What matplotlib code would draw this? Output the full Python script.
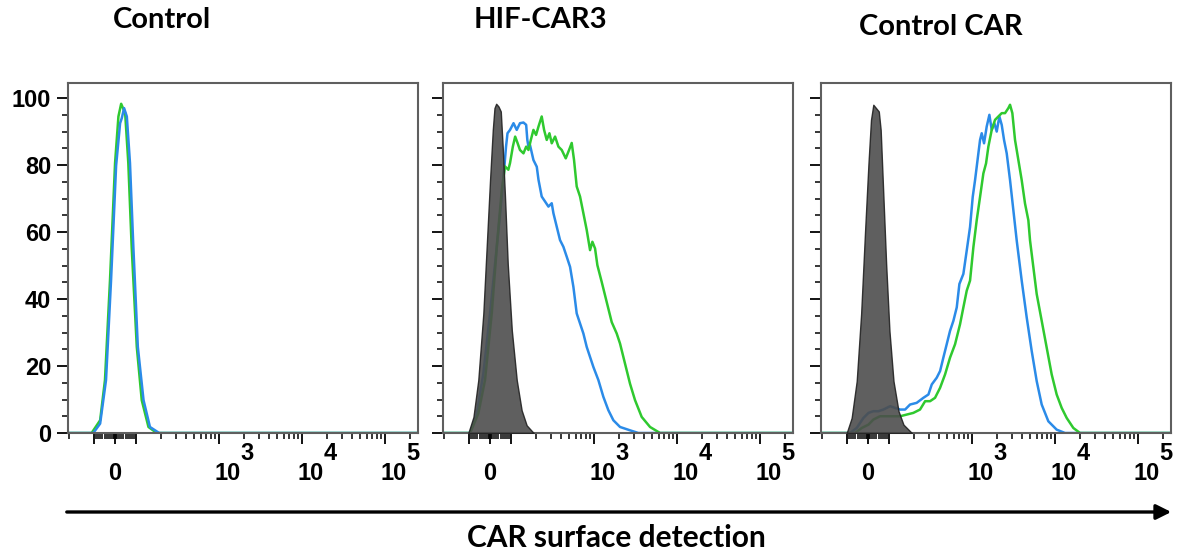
import numpy as np
import matplotlib
matplotlib.use('Agg')
import matplotlib.pyplot as plt

# ---- data (x = fluorescence intensity, y = % of max) ----
titles = ['Control', 'HIF-CAR3', 'Control CAR']

# panel 1: control T cells
ctl_green_x = [-107, -71, -48, -24, 0, 16, 29, 48, 63, 79, 102, 117, 141, 177]
ctl_green_y = [0, 3.8, 15.8, 45.7, 80.6, 94.5, 98.3, 95.5, 80.6, 55.6, 25.7, 9.8, 1.8, 0]
ctl_blue_x = [-102, -71, -43, -19, 5, 24, 32, 43, 56, 71, 87, 105, 123, 147, 190]
ctl_blue_y = [0, 2.8, 15.8, 45.7, 79.8, 92.5, 94, 97, 94.5, 80.6, 55.6, 25.7, 9.8, 1.8, 0]

# panel 2: HIF-CAR3
hif_iso_x = [-102, -79, -56, -32, -16, 0, 13, 21, 29, 40, 51, 60, 71, 84, 102, 117, 134, 154, 187]
hif_iso_y = [0, 4.8, 15.8, 35.7, 55.6, 75.6, 90.5, 97, 98.3, 97.5, 96, 85.5, 70.6, 50.6, 30.7,
             15.8, 6.8, 2.3, 0]
hif_blue_x = [-95, -63, -32, 0, 24, 48, 63, 76, 83, 95, 107, 117, 128, 141, 152, 157, 162, 169,
              186, 204, 214, 234, 257, 282, 309, 324, 355, 389, 427, 469, 514, 564, 618, 678,
              744, 816, 895, 982, 1128, 1295, 1488, 1710, 2057, 2715, 3420]
hif_blue_y = [0, 5.8, 17.7, 35.7, 50.6, 65.6, 75.6, 85.5, 89.5, 90.5, 92.5, 90.5, 92.5, 92.7,
              92.0, 87.5, 85.5, 86, 81.5, 79.5, 75.6, 70.6, 69.1, 67.6, 68.6, 65.6, 61.6, 57.6,
              55.6, 52.6, 49.6, 43.6, 35.7, 32.7, 29.7, 25.7, 22.7, 19.7, 15.8, 10.8, 6.8, 3.8,
              1.8, 0.8, 0]
hif_green_x = [-95, -56, -24, 8, 32, 56, 71, 87, 95, 105, 112, 120, 128, 141, 152, 162, 173,
               186, 200, 214, 234, 250, 269, 290, 309, 339, 372, 408, 456, 500, 538, 574, 618,
               678, 744, 816, 895, 955, 1028, 1097, 1237, 1421, 1633, 1876, 2057, 2363, 2715,
               3119, 3752, 4730, 6240]
hif_green_y = [0, 5.8, 15.8, 35.7, 55.6, 72.6, 79.6, 78.6, 80.6, 85.5, 88.5, 86.5, 84.5, 83.5,
               85.5, 84.5, 87.5, 90.5, 89, 91.5, 94.5, 90.5, 87.5, 89.5, 86.5, 88.5, 85.5, 84.5,
               82, 84.5, 86.6, 81.5, 73.6, 70.6, 65.6, 60.6, 54.6, 57.1, 55.1, 50.1, 45.1, 39.1,
               33.1, 29.7, 26.7, 20.7, 14.7, 9.8, 4.8, 1.8, 0]

# panel 3: control CAR
car_iso_x = [-101, -78, -54, -33, -14, 2, 14, 25, 38, 51, 60, 73, 86, 101, 113, 130, 149, 188]
car_iso_y = [0, 4.5, 15.5, 35.5, 60.5, 80.5, 93.5, 98, 97, 96, 90.5, 70.5, 50.5, 30.5, 15.5,
             6.5, 2.5, 0]
car_blue_x = [-86, -54, -22, 2, 25, 49, 73, 103, 118, 136, 156, 179, 215, 259, 298, 327, 375,
              412, 451, 495, 543, 596, 654, 704, 786, 863, 946, 1019, 1087, 1192, 1249, 1308,
              1395, 1502, 1618, 1726, 1858, 1983, 2135, 2278, 2430, 2617, 2870, 3148, 3453,
              3967, 4558, 5235, 6014, 6910, 8310, 10470, 13190]
car_blue_y = [0, 1.5, 4.5, 6, 6.5, 6.5, 7, 8, 7.5, 7, 7, 8.5, 9, 10.5, 11.5, 14.5, 16.5, 18.5,
              22.5, 26.5, 30.5, 33.5, 37.5, 44.5, 47.5, 54.5, 61.5, 70.5, 75.5, 83.5, 87.5, 89.5,
              86.5, 91.5, 95, 90.5, 92.5, 90, 94.5, 92, 87.5, 83.5, 75.5, 66.5, 57.5, 45.5, 34.5,
              24.5, 15.5, 8.5, 3.5, 1, 0]
car_green_x = [-62, -30, 2, 25, 57, 89, 113, 136, 163, 196, 236, 272, 312, 358, 412, 473, 543,
               624, 717, 786, 863, 946, 1038, 1138, 1249, 1369, 1475, 1573, 1726, 1893, 2076,
               2278, 2498, 2740, 2870, 3060, 3296, 3616, 3967, 4350, 4773, 4998, 5482, 6014,
               6910, 7936, 9117, 10470, 12030, 13820, 16630, 20010]
car_green_y = [0, 1.5, 2.5, 4, 5, 5, 5, 5, 5.5, 6, 7, 9.5, 9.5, 10.5, 13.5, 17.5, 22.5, 26.5,
               32.5, 37.5, 42.5, 45.5, 55.5, 63.5, 70.5, 77.5, 80.5, 85.5, 90.5, 93.5, 94.5, 95.5,
               95.5, 97, 98, 95.5, 87.5, 81.5, 75.5, 68.5, 63.5, 57.5, 49.5, 41.5, 33.5, 25.5,
               17.5, 11.5, 7.5, 4.5, 1.5, 0]

y_ticks = [0, 20, 40, 60, 80, 100]
x_major = [-100, 0, 100, 1000, 10000, 100000]
x_minor = ([-200] + list(range(-90, 0, 10)) + list(range(-5, 10, 5)) + list(range(10, 100, 10))
           + list(range(200, 1000, 100)) + list(range(2000, 10000, 1000))
           + list(range(20000, 100000, 10000)) + [200000])
x_labels = {0: '0', 1000: '3', 10000: '4', 100000: '5'}

XMIN, XMAX = -206, 250000
BLUE = '#2b8be8'
GREEN = '#2fc92f'
SPINE = '#5f5f5f'
TITLE_FONT = 'Lato'
TICK_FONT = 'Liberation Sans'
TICK_SIZE = 17

panels = [
    (None, (ctl_green_x, ctl_green_y), (ctl_blue_x, ctl_blue_y)),
    ((hif_iso_x, hif_iso_y), (hif_green_x, hif_green_y), (hif_blue_x, hif_blue_y)),
    ((car_iso_x, car_iso_y), (car_green_x, car_green_y), (car_blue_x, car_blue_y)),
]
lefts = [68, 443, 821]
title_pos = [(162, 20), (540, 20), (941, 27)]

W, H = 1178, 558
fig = plt.figure(figsize=(W / 100, H / 100), dpi=100)

for i, (iso, green, blue) in enumerate(panels):
    ax = fig.add_axes([lefts[i] / W, 1 - 433 / H, 350 / W, 350 / H])
    ax.set_xscale('symlog', linthresh=100, linscale=0.228, base=10)

    if i == 0:
        # control: blue drawn over green
        ax.plot(np.r_[XMIN, green[0], XMAX], np.r_[0, green[1], 0], color=GREEN, lw=1.8)
        ax.plot(np.r_[XMIN, blue[0], XMAX], np.r_[0, blue[1], 0], color=BLUE, lw=1.8)
    else:
        ax.plot(np.r_[XMIN, blue[0], XMAX], np.r_[0, blue[1], 0], color=BLUE, lw=1.8)
        ax.plot(np.r_[XMIN, green[0], XMAX], np.r_[0, green[1], 0], color=GREEN, lw=1.8)
        ax.fill_between(iso[0], iso[1], 0, facecolor='#4d4d4d', edgecolor='#222222',
                        lw=1.0, alpha=0.9, zorder=3)

    ax.set_xlim(XMIN, XMAX)
    ax.set_ylim(0, 104.5)

    for side in ['top', 'right', 'left', 'bottom']:
        ax.spines[side].set_color(SPINE)
        ax.spines[side].set_linewidth(1.5)

    ax.set_yticks(y_ticks)
    ax.set_yticks(np.arange(5, 105, 5), minor=True)
    ax.tick_params(axis='y', which='major', direction='out', length=8, width=1.3, color='black',
                   pad=4)
    ax.tick_params(axis='y', which='minor', direction='out', length=4, width=1.1, color='black')
    if i == 0:
        ax.set_yticklabels([str(t) for t in y_ticks], fontsize=TICK_SIZE, fontweight='bold',
                           family=TICK_FONT)
    else:
        ax.set_yticklabels([])

    ax.set_xticks(x_major)
    ax.set_xticks(x_minor, minor=True)
    ax.set_xticklabels([])
    ax.tick_params(axis='x', which='major', direction='out', length=8, width=1.3, color='black')
    ax.tick_params(axis='x', which='minor', direction='out', length=4, width=1.1, color='black')

    # tick labels in the flow-cytometry style: "10" with a raised exponent
    for v, lab in x_labels.items():
        kw = dict(xycoords=('data', 'axes fraction'), textcoords='offset points',
                  ha='center', va='center', fontsize=TICK_SIZE, fontweight='bold',
                  family=TICK_FONT)
        if v == 0:
            ax.annotate(lab, xy=(v, 0), xytext=(0, -29.5), **kw)
        else:
            ax.annotate('10', xy=(v, 0), xytext=(6, -29.5), **kw)
            ax.annotate(lab, xy=(v, 0), xytext=(20, -14.5), **kw)

    fig.text(title_pos[i][0] / W, 1 - title_pos[i][1] / H, titles[i], ha='center', va='center',
             fontsize=21, fontweight='bold', family=TITLE_FONT)

# long arrow under the panels and the shared axis title
fig.add_artist(matplotlib.patches.FancyArrowPatch((64 / W, 1 - 512 / H), (1174 / W, 1 - 512 / H),
                                                  arrowstyle='-|>,head_length=6,head_width=3',
                                                  lw=2.4, color='black', mutation_scale=1.5,
                                                  transform=fig.transFigure))
fig.text(616 / W, 1 - 538 / H, 'CAR surface detection', ha='center', va='center', fontsize=21.5,
         fontweight='bold', family=TITLE_FONT)

plt.savefig('out.png', dpi=100)
